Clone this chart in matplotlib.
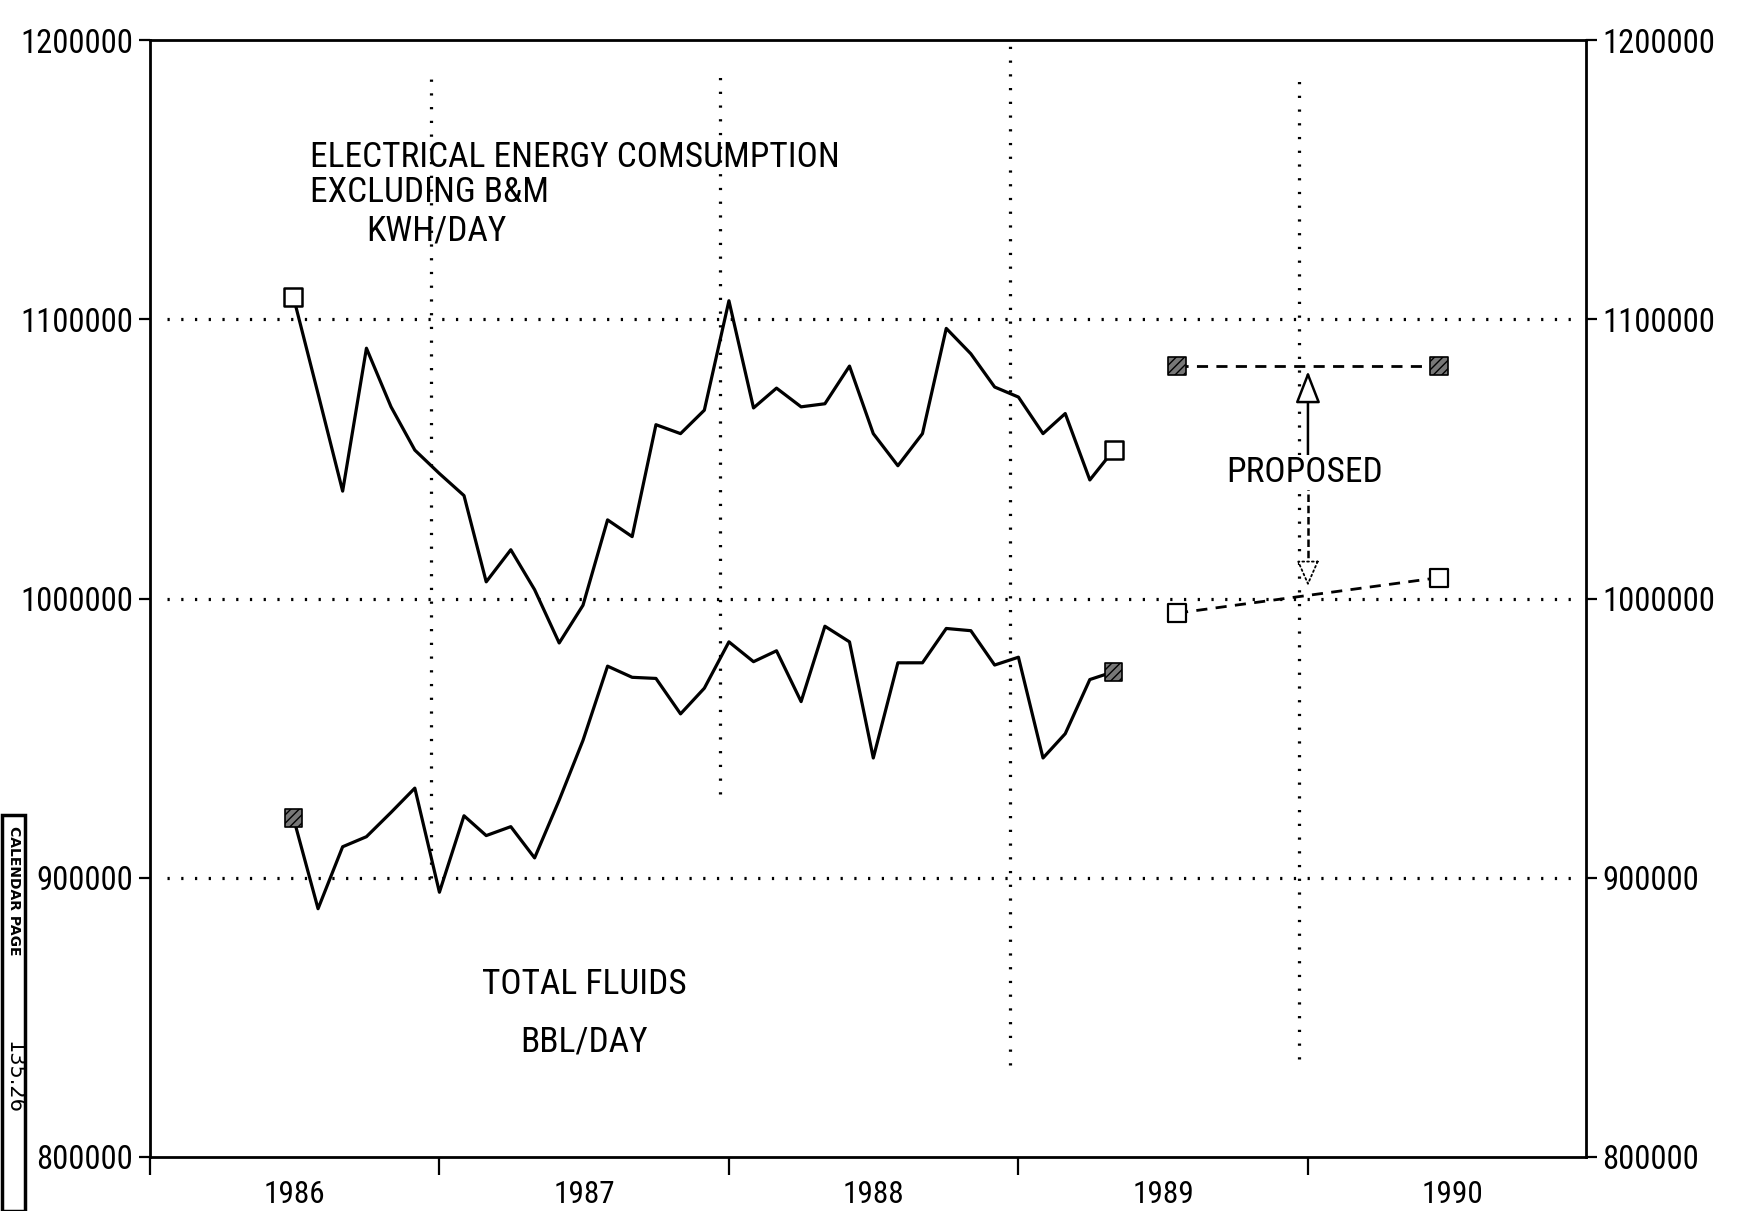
import matplotlib
matplotlib.use("Agg")
import matplotlib.pyplot as plt
from matplotlib import font_manager as fm
from matplotlib.patches import Rectangle
import pandas as pd

# ---------------- data ----------------
months = pd.date_range("1986-07-01", periods=35, freq="MS")
electric_kwh = [1108000, 1073400, 1038500, 1089700, 1068700, 1053200, 1044800,
                1036900, 1006000, 1017500, 1003200, 984100, 997600, 1028200,
                1022200, 1062300, 1059100, 1067500, 1106700, 1068300, 1075400,
                1068700, 1069800, 1083300, 1059100, 1047600, 1059100, 1096800,
                1087700, 1075800, 1072200, 1059100, 1066300, 1042500, 1053200]
fluids_bbl = [921400, 888900, 911100, 914700, 923400, 932100, 894800, 922200,
              915100, 918300, 907100, 927800, 949200, 975800, 971800, 971400,
              958700, 967900, 984500, 977400, 981300, 963100, 990100, 984500,
              942900, 977000, 977000, 989300, 988500, 976200, 979000, 942900,
              951600, 971000, 973800]
proposed_dates = pd.to_datetime(["1989-07-20", "1990-06-15"])
proposed_fluids = [1083300, 1083300]
proposed_electric = [994800, 1007500]
arrow_date = pd.Timestamp("1990-01-01")
y_ticks = [800000, 900000, 1000000, 1100000, 1200000]
y_tick_labels = ["800000", "900000", "1000000", "1100000", "1200000"]
years = [1986, 1987, 1988, 1989, 1990]
year_labels = ["1986", "1987", "1988", "1989", "1990"]


def dec_year(d):
    d = pd.DatetimeIndex(d) if not isinstance(d, pd.Timestamp) else d
    return d.year + (d.dayofyear - 1) / 365.0


# ---------------- fonts ----------------
avail = {f.name for f in fm.fontManager.ttflist}
FONT = "DejaVu Sans"
for cand in ["Liberation Sans Narrow", "Roboto Condensed", "Open Sans Condensed",
             "Noto Sans Display", "DejaVu Sans"]:
    if cand in avail:
        FONT = cand
        break
plt.rcParams["font.family"] = [FONT, "DejaVu Sans"]

fig = plt.figure(figsize=(17.37, 12.11), dpi=100)
ax = fig.add_axes([0.0863, 0.0447, 0.8267, 0.922])

x = dec_year(months)
px = dec_year(proposed_dates)
ax_x = dec_year(arrow_date)

DOT = (0, (0.7, 3.6))
# grid lines
for yv in [900000, 1000000, 1100000]:
    ax.plot([1986.06, 1990.93], [yv, yv], color="black", lw=2.3, ls=DOT, zorder=1)
vspans = [(900000, 1190000), (930000, 1187000), (833000, 1198000), (835000, 1186000)]
for yr, (y0, y1) in zip(years[1:], vspans):
    ax.plot([yr - 0.03, yr - 0.03], [y0, y1], color="black", lw=2.3, ls=DOT, zorder=1)

# series
ax.plot(x, electric_kwh, color="black", lw=2.3, zorder=3)
ax.plot(x, fluids_bbl, color="black", lw=2.3, zorder=3)
ax.scatter([x[0], x[-1]], [electric_kwh[0], electric_kwh[-1]], marker="s", s=160,
           facecolor="white", edgecolor="black", linewidth=1.8, zorder=4)
ax.scatter([x[0], x[-1]], [fluids_bbl[0], fluids_bbl[-1]], marker="s", s=160,
           facecolor="#777777", edgecolor="black", hatch="////", linewidth=1.2,
           zorder=4)

# proposed
ax.plot(px, proposed_fluids, color="black", lw=2.0, ls=(0, (4, 3)), zorder=3)
ax.scatter(px, proposed_fluids, marker="s", s=160, facecolor="#777777",
           edgecolor="black", hatch="////", linewidth=1.2, zorder=4)
ax.plot(px, proposed_electric, color="black", lw=2.0, ls=(0, (4, 3)), zorder=3)
ax.scatter(px, proposed_electric, marker="s", s=150, facecolor="white",
           edgecolor="black", linewidth=1.6, zorder=4)

# arrow
ax.annotate("", xy=(ax_x, 1081500), xytext=(ax_x, 1051000),
            arrowprops=dict(arrowstyle="-|>,head_length=0.9,head_width=0.35",
                            fc="white", ec="black", lw=1.8, mutation_scale=22,
                            shrinkA=0, shrinkB=0), zorder=5)
ax.plot([ax_x, ax_x], [1010500, 1039500], color="black", lw=1.8,
        ls=(0, (3, 1.5)), zorder=3)
ax.annotate("", xy=(ax_x, 1004500), xytext=(ax_x, 1012000),
            arrowprops=dict(arrowstyle="-|>,head_length=0.8,head_width=0.35",
                            fc="white", ec="black", lw=1.3, ls=":",
                            mutation_scale=20, shrinkA=0, shrinkB=0), zorder=5)

# annotations
tkw = dict(fontsize=25.5, color="black")
ax.text(1986.552, 1157900, "ELECTRICAL ENERGY COMSUMPTION", ha="left", va="center", **tkw)
ax.text(1986.552, 1145600, "EXCLUDING B&M", ha="left", va="center", **tkw)
ax.text(1986.747, 1131700, "KWH/DAY", ha="left", va="center", **tkw)
ax.text(ax_x - 0.01, 1045200, "PROPOSED", ha="center", va="center",
        bbox=dict(fc="white", ec="none", pad=1), zorder=6, **tkw)
ax.text(1987.50, 861900, "TOTAL FLUIDS", ha="center", va="center", **tkw)
ax.text(1987.50, 841300, "BBL/DAY", ha="center", va="center", **tkw)

# axes styling
ax.set_xlim(1986, 1990.96)
ax.set_ylim(800000, 1200000)
ax.set_yticks(y_ticks)
ax.set_yticklabels(y_tick_labels)
ax.tick_params(axis="y", which="major", direction="out", length=8, width=1.6,
               labelsize=23.5, pad=4, left=True, right=True,
               labelleft=True, labelright=True)
ax.set_xticks(years)
ax.set_xticklabels([""] * len(years))
ax.set_xticks([yr + 0.5 for yr in years], minor=True)
ax.set_xticklabels(year_labels, minor=True)
ax.tick_params(axis="x", which="major", direction="out", length=13, width=1.6)
ax.tick_params(axis="x", which="minor", length=0, labelsize=22.5, pad=17)
for s in ax.spines.values():
    s.set_linewidth(2.0)

# calendar page stamp
fig.patches.append(Rectangle((0.001, 0.0), 0.0135, 0.327, transform=fig.transFigure,
                             fill=False, ec="black", lw=2.5))
fig.text(0.0078, 0.318, "CALENDAR PAGE", rotation=-90, ha="center", va="top",
         fontsize=10, fontweight="bold", family=["DejaVu Sans"])
fig.text(0.0078, 0.11, "135.26", rotation=-90, ha="center", va="center",
         fontsize=15, family=["DejaVu Sans"])

fig.savefig("out.png", dpi=100)
